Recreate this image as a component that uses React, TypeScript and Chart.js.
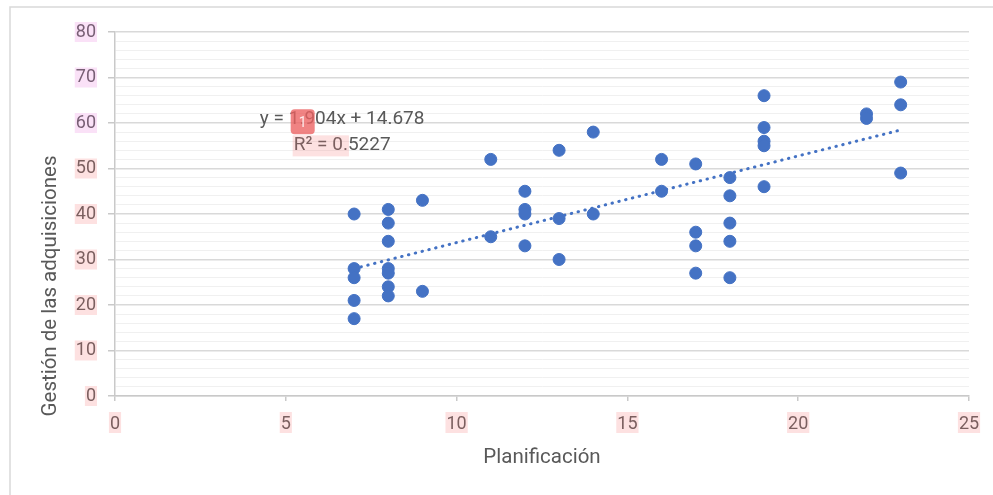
import { useEffect, useRef } from "react";
import { Chart, registerables } from "chart.js";

Chart.register(...registerables);

// ---- data ----
const planificacion = [
  7, 7, 7, 7, 7,
  8, 8, 8, 8, 8, 8, 8,
  9, 9,
  11, 11,
  12, 12, 12, 12,
  13, 13, 13,
  14, 14,
  16, 16,
  17, 17, 17, 17,
  18, 18, 18, 18, 18,
  19, 19, 19, 19, 19,
  22, 22,
  23, 23, 23,
];
const gestion = [
  40, 28, 26, 21, 17,
  41, 38, 34, 28, 27, 24, 22,
  43, 23,
  52, 35,
  45, 41, 40, 33,
  54, 39, 30,
  58, 40,
  52, 45,
  51, 36, 33, 27,
  48, 44, 38, 34, 26,
  66, 59, 56, 55, 46,
  62, 61,
  69, 64, 49,
];
const trendSlope = 1.904;
const trendIntercept = 14.678;
const trendXRange = [7, 23];
const xTickValues = [0, 5, 10, 15, 20, 25];
const yTickValues = [0, 10, 20, 30, 40, 50, 60, 70, 80];
const eqLine1 = "y = 1.904x + 14.678";
const eqLine2 = "R² = 0.5227";
const eqAnchor = [6.65, 60.8];
const xTitle = "Planificación";
const yTitle = "Gestión de las adquisiciones";

const FONT = "Roboto";
const TEXT = "#595959";
const BLUE = "#4472C4";
const TICK_SIZE = 18;
const TITLE_SIZE = 20.5;
const EQ_SIZE = 19;

const decorPlugin = {
  id: "decor",
  beforeDraw(chart: any) {
    const ctx = chart.ctx as CanvasRenderingContext2D;
    ctx.save();
    ctx.fillStyle = "#ffffff";
    ctx.fillRect(0, 0, chart.width, chart.height);
    ctx.strokeStyle = "#d9d9d9";
    ctx.lineWidth = 1.5;
    ctx.beginPath();
    ctx.moveTo(10, chart.height + 2);
    ctx.lineTo(10, 7);
    ctx.lineTo(chart.width + 2, 7);
    ctx.stroke();
    ctx.restore();
  },
  afterDraw(chart: any) {
    const ctx = chart.ctx as CanvasRenderingContext2D;
    const xs = chart.scales.x;
    const ys = chart.scales.y;
    const area = chart.chartArea;

    // axis titles
    ctx.save();
    ctx.fillStyle = TEXT;
    ctx.font = `${TITLE_SIZE}px ${FONT}`;
    ctx.textAlign = "center";
    ctx.textBaseline = "middle";
    ctx.fillText(xTitle, (area.left + area.right) / 2, 458);
    ctx.save();
    ctx.translate(51, 286);
    ctx.rotate(-Math.PI / 2);
    ctx.fillText(yTitle, 0, 0);
    ctx.restore();

    // trendline equation
    ctx.font = `${EQ_SIZE}px ${FONT}`;
    const ex = xs.getPixelForValue(eqAnchor[0]);
    const ey = ys.getPixelForValue(eqAnchor[1]);
    ctx.fillText(eqLine1, ex, ey);
    ctx.fillText(eqLine2, ex, ey + 26);

    const w1 = ctx.measureText(eqLine1).width;
    const start1 = ex - w1 / 2 + ctx.measureText("y = ").width;
    const w2 = ctx.measureText(eqLine2).width;
    const start2 = ex - w2 / 2;
    const wR = ctx.measureText("R² = 0.").width;

    // highlight boxes
    ctx.fillStyle = "rgba(236,96,96,0.78)";
    ctx.beginPath();
    (ctx as any).roundRect(start1 + 2, ey - 10, 24, 25, 4);
    ctx.fill();
    ctx.fillStyle = "rgba(255,255,255,0.85)";
    ctx.font = `14px ${FONT}`;
    ctx.fillText("1", start1 + 14, ey + 4);

    ctx.fillStyle = "rgba(245,120,120,0.22)";
    ctx.fillRect(start2 - 1, ey + 16, wR + 2, 21);

    // tick label highlights
    ctx.font = `${TICK_SIZE}px ${FONT}`;
    const labelRight = ys.right - 7 - 12;
    yTickValues.forEach((v) => {
      const py = ys.getPixelForValue(v);
      const w = ctx.measureText(String(v)).width;
      ctx.fillStyle = v >= 60 ? "rgba(230,120,220,0.22)" : "rgba(245,120,120,0.22)";
      ctx.fillRect(labelRight - w - 1, py - 10, w + 2, 20);
    });
    xTickValues.forEach((v) => {
      const px = xs.getPixelForValue(v);
      const w = ctx.measureText(String(v)).width;
      ctx.fillStyle = "rgba(245,120,120,0.22)";
      ctx.fillRect(px - w / 2 - 1, 412, w + 2, 21);
    });
    ctx.restore();
  },
};

export default function App() {
  const ref = useRef<HTMLCanvasElement>(null);

  useEffect(() => {
    document.body.style.margin = "0";
    const points = planificacion.map((x, i) => ({ x, y: gestion[i] }));
    const trend = trendXRange.map((x) => ({ x, y: trendSlope * x + trendIntercept }));

    const chart = new Chart(ref.current as HTMLCanvasElement, {
      type: "scatter",
      data: {
        datasets: [
          {
            label: "Gestión de las adquisiciones",
            data: points,
            pointRadius: 6,
            pointBorderWidth: 1,
            pointBackgroundColor: BLUE,
            pointBorderColor: BLUE,
            order: 0,
          },
          {
            label: "Lineal",
            data: trend,
            showLine: true,
            pointRadius: 0,
            borderColor: BLUE,
            borderWidth: 3,
            borderDash: [0.5, 6.5],
            borderCapStyle: "round",
            order: 1,
          } as any,
        ],
      },
      options: {
        responsive: false,
        animation: false,
        events: [],
        layout: { padding: { left: 0, top: 32, right: 24, bottom: 0 } },
        plugins: {
          legend: { display: false },
          tooltip: { enabled: false },
        },
        scales: {
          x: {
            type: "linear",
            min: 0,
            max: 25,
            afterFit: (s: any) => {
              s.height = 99;
            },
            ticks: {
              stepSize: 5,
              color: TEXT,
              font: { family: FONT, size: TICK_SIZE },
              padding: 13,
              maxRotation: 0,
            },
            grid: {
              drawOnChartArea: false,
              drawTicks: true,
              tickLength: 5,
              color: "#c9c9c9",
              tickColor: "#c9c9c9",
              lineWidth: 1.5,
            },
            border: { color: "#c9c9c9", width: 1.5 },
          },
          y: {
            type: "linear",
            min: 0,
            max: 80,
            afterFit: (s: any) => {
              s.width = 115;
            },
            ticks: {
              stepSize: 2,
              autoSkip: false,
              color: TEXT,
              font: { family: FONT, size: TICK_SIZE },
              padding: 12,
              callback: (v: any) => (Number(v) % 10 === 0 ? String(v) : ""),
            },
            grid: {
              drawTicks: true,
              tickLength: 7,
              color: (c: any) => (c.tick && c.tick.value % 10 === 0 ? "#d9d9d9" : "#f0f0f0"),
              tickColor: (c: any) => (c.tick && c.tick.value % 10 === 0 ? "#c9c9c9" : "rgba(0,0,0,0)"),
              lineWidth: (c: any) => (c.tick && c.tick.value % 10 === 0 ? 1.5 : 1),
            },
            border: { color: "#c9c9c9", width: 1.5 },
          },
        },
      },
      plugins: [decorPlugin],
    });
    return () => chart.destroy();
  }, []);

  return (
    <div style={{ width: 993, height: 495 }}>
      <canvas ref={ref} width={993} height={495} style={{ display: "block" }} />
    </div>
  );
}
